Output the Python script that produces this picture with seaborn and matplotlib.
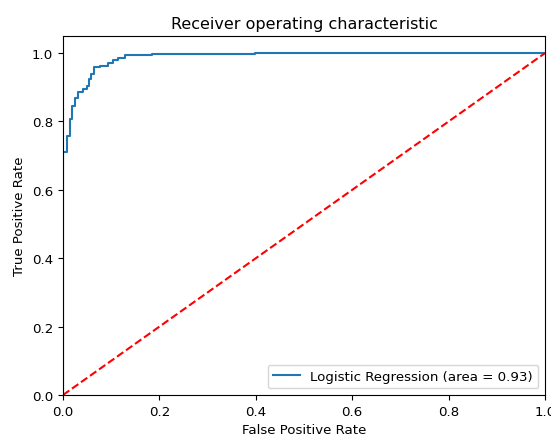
import matplotlib
matplotlib.use("Agg")
import matplotlib.pyplot as plt
import pandas as pd
import seaborn as sns

# ROC curve vertices (false positive rate, true positive rate)
FPR = [0.0, 0.0, 0.009, 0.009, 0.014, 0.014, 0.019, 0.019, 0.025, 0.025,
       0.032, 0.032, 0.042, 0.042, 0.049, 0.049, 0.053, 0.053, 0.058, 0.058,
       0.065, 0.065, 0.077, 0.077, 0.094, 0.094, 0.104, 0.104, 0.115, 0.115,
       0.129, 0.129, 0.184, 0.184, 0.246, 0.246, 0.398, 0.398, 1.0]
TPR = [0.0, 0.71, 0.71, 0.758, 0.758, 0.807, 0.807, 0.846, 0.846, 0.87,
       0.87, 0.885, 0.885, 0.895, 0.895, 0.904, 0.904, 0.924, 0.924, 0.939,
       0.939, 0.958, 0.958, 0.963, 0.963, 0.971, 0.971, 0.980, 0.980, 0.987,
       0.987, 0.994, 0.994, 0.996, 0.996, 0.998, 0.998, 1.0, 1.0]
LABEL = "Logistic Regression (area = 0.93)"
DIAG = [0.0, 1.0]

plt.rcParams["font.size"] = 9.6

roc = pd.DataFrame({"fpr": FPR, "tpr": TPR})

fig = plt.figure(figsize=(5.51, 4.35), dpi=100)
ax = fig.add_axes([63 / 551, 1 - 396 / 435, (545 - 63) / 551, (396 - 37) / 435])

sns.lineplot(data=roc, x="fpr", y="tpr", sort=False, estimator=None,
             color="tab:blue", linewidth=1.5, label=LABEL, ax=ax)
ax.plot(DIAG, DIAG, "r--")

ax.set_xlim([0.0, 1.0])
ax.set_ylim([0.0, 1.05])
ax.set_xlabel("False Positive Rate")
ax.set_ylabel("True Positive Rate")
ax.set_title("Receiver operating characteristic", fontsize=11.5)
ax.legend(loc="lower right")

fig.savefig("out.png", dpi=100)
